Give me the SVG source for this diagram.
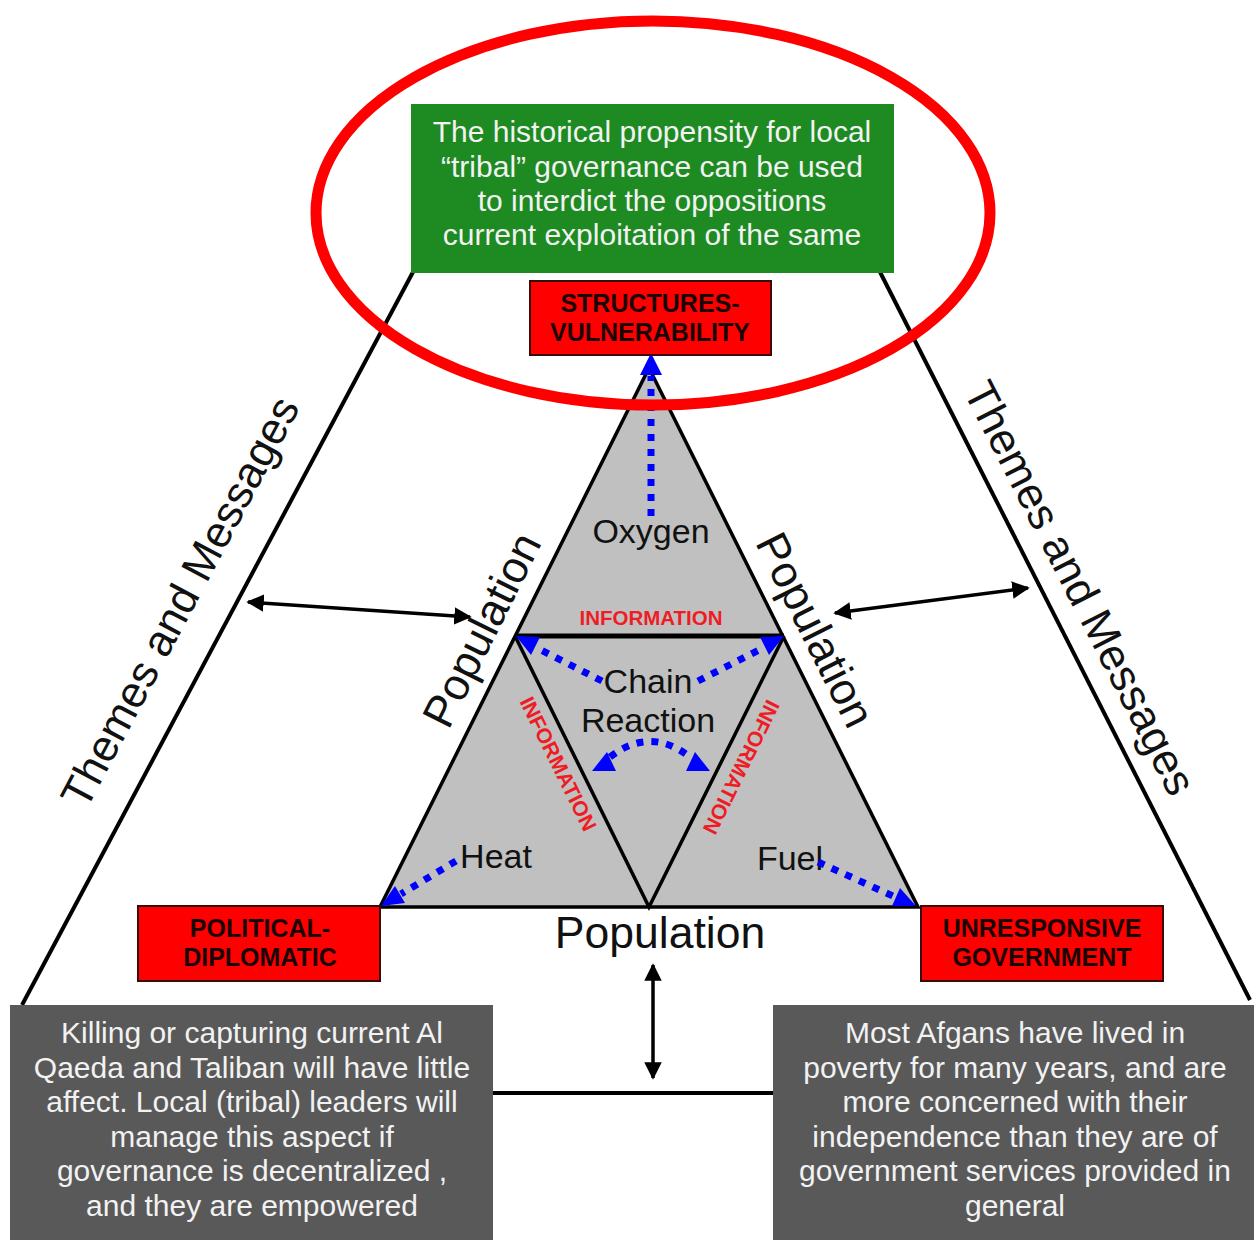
<svg xmlns="http://www.w3.org/2000/svg" width="1254" height="1240" viewBox="0 0 1254 1240">
<defs>
<style>
text{font-family:"Liberation Sans",Arial,sans-serif}
.big{font-size:30px;fill:#f2f2f2;text-anchor:middle}
.lbl{font-size:34px;fill:#111;text-anchor:middle}
.pop{font-size:44.5px;fill:#111;text-anchor:middle}
.thm{font-size:44px;fill:#111;text-anchor:middle}
.red{fill:#ff0000;stroke:#3a0a0a;stroke-width:2}
.redt{font-size:25px;font-weight:bold;fill:#1a0505;text-anchor:middle}
.info{font-size:20.5px;font-weight:bold;fill:#ee1c25;text-anchor:middle}
.blk{stroke:#000;stroke-width:4;fill:none}
.dbl{stroke:#000;stroke-width:3.5;fill:none;marker-start:url(#ah);marker-end:url(#ah)}
.dot{stroke:#0000ff;stroke-width:7;stroke-dasharray:7 8;fill:none}
.bh{fill:#0000ff}
</style>
<marker id="ah" viewBox="0 0 10 10" refX="9" refY="5" markerWidth="5" markerHeight="5" orient="auto-start-reverse" markerUnits="strokeWidth">
<path d="M0 0 L10 5 L0 10 Z" fill="#000"/>
</marker>
</defs>
<rect width="1254" height="1240" fill="#fff"/>
<g id="connectors">
<path class="blk" d="M413 272 L22 1005"/>
<path class="blk" d="M880 272 L1250 1000"/>
<path class="blk" d="M493 1093 L775 1093"/>
<path class="dbl" d="M248 602 L470 617"/>
<path class="dbl" d="M1028 588 L835 613"/>
<path class="dbl" d="M653 965 L653 1078"/>
</g>
<g id="themes-left"><text class="thm" transform="translate(180,602) rotate(-62)" y="15">Themes and Messages</text></g>
<g id="themes-right"><text class="thm" transform="translate(1080,588) rotate(63)" y="15">Themes and Messages</text></g>
<g id="green-box">
<rect x="411" y="104" width="483" height="169" fill="#1e8a22"/>
<text class="big" x="652" y="142">The historical propensity for local</text>
<text class="big" x="652" y="177">“tribal” governance can be used</text>
<text class="big" x="652" y="211">to interdict the oppositions</text>
<text class="big" x="652" y="245">current exploitation of the same</text>
</g>
<g id="left-grey">
<rect x="10" y="1005" width="483" height="240" fill="#595959"/>
<text class="big" x="252" y="1043">Killing or capturing current Al</text>
<text class="big" x="252" y="1078">Qaeda and Taliban will have little</text>
<text class="big" x="252" y="1112">affect. Local (tribal) leaders will</text>
<text class="big" x="252" y="1147">manage this aspect if</text>
<text class="big" x="252" y="1181">governance is decentralized ,</text>
<text class="big" x="252" y="1216">and they are empowered</text>
</g>
<g id="right-grey">
<rect x="773" y="1005" width="490" height="240" fill="#595959"/>
<text class="big" x="1015" y="1043">Most Afgans have lived in</text>
<text class="big" x="1015" y="1078">poverty for many years, and are</text>
<text class="big" x="1015" y="1112">more concerned with their</text>
<text class="big" x="1015" y="1147">independence than they are of</text>
<text class="big" x="1015" y="1181">government services provided in</text>
<text class="big" x="1015" y="1216">general</text>
</g>
<g id="fire-triangle">
<path d="M649 368 L918 907 L380 907 Z" fill="#c0c0c0" stroke="#000" stroke-width="3.5" stroke-linejoin="miter"/>
<path d="M515 636 L784 636" stroke="#000" stroke-width="5"/>
<path d="M515 636 L649 907 L784 636" fill="none" stroke="#000" stroke-width="3.5"/>
<text class="info" x="651" y="625">INFORMATION</text>
<text class="info" transform="translate(558,764) rotate(63.7)" y="7" style="font-size:21px">INFORMATION</text>
<text class="info" transform="translate(741,767) rotate(116.3)" y="7" style="font-size:21px">INFORMATION</text>
<text class="lbl" x="651" y="543">Oxygen</text>
<text class="lbl" x="648" y="693">Chain</text>
<text class="lbl" x="648" y="732">Reaction</text>
<text class="lbl" x="496" y="868">Heat</text>
<text class="lbl" x="790" y="870">Fuel</text>
</g>
<g id="pop-left"><text class="pop" transform="translate(482,630) rotate(-63.5)" y="15">Population</text></g>
<g id="pop-right"><text class="pop" transform="translate(815,630) rotate(63.5)" y="15">Population</text></g>
<g id="pop-bottom"><text class="pop" x="660" y="948">Population</text></g>
<g id="blue-arrows">
<path class="dot" d="M651 516 L651 376"/>
<polygon class="bh" points="651,353 640,375 662,375"/>
<path class="dot" d="M602 681 L537 648"/>
<polygon class="bh" points="516,636 540,637 531,655"/>
<path class="dot" d="M698 681 L763 648"/>
<polygon class="bh" points="784,636 769,655 760,637"/>
<path class="dot" d="M610 757 Q650 726 690 757"/>
<polygon class="bh" points="592,771 616,771 607,752"/>
<polygon class="bh" points="686,771 710,771 695,752"/>
<path class="dot" d="M456 861 L401 894"/>
<polygon class="bh" points="381,906 405,903 395,886"/>
<path class="dot" d="M818 862 L895 897"/>
<polygon class="bh" points="916,906 892,906 900,888"/>
</g>
<g id="ellipse"><ellipse cx="653" cy="213" rx="337" ry="192" fill="none" stroke="#ff0000" stroke-width="11"/></g>
<g id="structures">
<rect class="red" x="530" y="281" width="241" height="74"/>
<text class="redt" x="650" y="312">STRUCTURES-</text>
<text class="redt" x="650" y="341">VULNERABILITY</text>
</g>
<g id="political">
<rect class="red" x="138" y="906" width="242" height="75"/>
<text class="redt" x="260" y="937">POLITICAL-</text>
<text class="redt" x="260" y="966">DIPLOMATIC</text>
</g>
<g id="unresponsive">
<rect class="red" x="921" y="906" width="242" height="75"/>
<text class="redt" x="1042" y="937">UNRESPONSIVE</text>
<text class="redt" x="1042" y="966">GOVERNMENT</text>
</g>
</svg>
